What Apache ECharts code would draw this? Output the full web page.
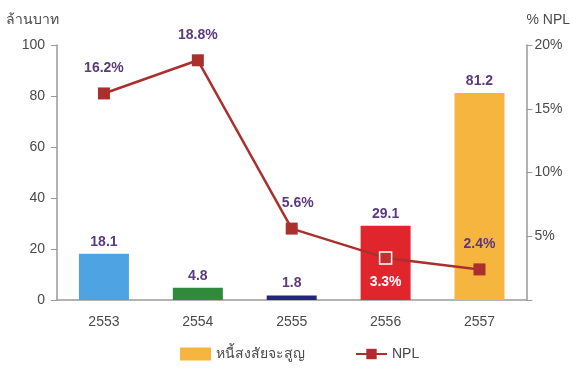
<!DOCTYPE html>
<html>
<head>
<meta charset="utf-8">
<script src="https://cdn.jsdelivr.net/npm/echarts@6/dist/echarts.min.js"></script>
<style>
  html, body { margin: 0; padding: 0; background: #ffffff; }
  #chart { width: 573px; height: 368px; }
</style>
</head>
<body>
<div id="chart"></div>
<script>
// Years (Buddhist era)
const years = ['2553', '2554', '2555', '2556', '2557'];
// Doubtful-debt amount, million baht
const doubtfulDebt = [18.1, 4.8, 1.8, 29.1, 81.2];
// NPL ratio, percent
const nplRatio = [16.2, 18.8, 5.6, 3.3, 2.4];
// Bar colour per year
const barColors = ['#4ea3e3', '#2f8a3c', '#24257e', '#e0262c', '#f5b53f'];

const labelColor = '#5b3a7e';
const axisGray = '#9a9a9a';
const textGray = '#4a4a4a';
const lineRed = '#ab302d';
const baseFont = 'Liberation Sans, Roboto, sans-serif';

const chart = echarts.init(document.getElementById('chart'));

chart.setOption({
  animation: false,
  textStyle: { fontFamily: baseFont },
  grid: { left: 57, right: 44, top: 45, bottom: 68 },
  legend: {
    bottom: 2,
    left: 175,
    itemGap: 50,
    itemWidth: 31,
    itemHeight: 13,
    textStyle: { color: textGray, fontSize: 14, fontFamily: baseFont },
    data: [
      { name: 'หนี้สงสัยจะสูญ', icon: 'rect' },
      { name: 'NPL' }
    ]
  },
  xAxis: {
    type: 'category',
    data: years,
    axisLine: { lineStyle: { color: axisGray, width: 1.5 } },
    axisTick: { show: false },
    axisLabel: { color: textGray, fontSize: 14, margin: 15 }
  },
  yAxis: [
    {
      type: 'value',
      min: 0, max: 100, interval: 20,
      name: 'ล้านบาท',
      nameLocation: 'end',
      nameGap: 18,
      nameTextStyle: { color: textGray, fontSize: 14, align: 'right', padding: [0, -2, 0, 0] },
      axisLine: { show: true, lineStyle: { color: axisGray, width: 1.5 } },
      axisTick: { show: true, length: 6, lineStyle: { color: axisGray } },
      axisLabel: { color: textGray, fontSize: 14, margin: 12 },
      splitLine: { show: false }
    },
    {
      type: 'value',
      min: 0, max: 20, interval: 5,
      name: '% NPL',
      nameLocation: 'end',
      nameGap: 18,
      nameTextStyle: { color: textGray, fontSize: 14, align: 'left', padding: [0, 0, 0, 0] },
      axisLine: { show: true, lineStyle: { color: axisGray, width: 1.5 } },
      axisTick: { show: true, length: 6, lineStyle: { color: axisGray } },
      axisLabel: {
        color: textGray, fontSize: 14, margin: 8,
        formatter: v => (v === 0 ? '' : v + '%')
      },
      splitLine: { show: false }
    }
  ],
  series: [
    {
      name: 'หนี้สงสัยจะสูญ',
      type: 'bar',
      yAxisIndex: 0,
      barWidth: 50,
      itemStyle: { color: barColors[4] },
      data: doubtfulDebt.map((v, i) => ({ value: v, itemStyle: { color: barColors[i] } })),
      label: {
        show: true,
        position: 'top',
        distance: 5,
        color: labelColor,
        fontWeight: 'bold',
        fontSize: 14
      }
    },
    {
      name: 'NPL',
      type: 'line',
      yAxisIndex: 1,
      symbol: 'rect',
      symbolSize: 12,
      lineStyle: { color: lineRed, width: 2.5 },
      itemStyle: { color: lineRed },
      data: nplRatio.map((v, i) => {
        const item = { value: v };
        if (i === 2) {
          item.label = { offset: [6, 0] };
        }
        if (i === 3) {
          item.itemStyle = { color: '#c4302f', borderColor: '#ffffff', borderWidth: 1.5 };
          item.label = { position: 'bottom', distance: 10, color: '#ffffff' };
        }
        return item;
      }),
      label: {
        show: true,
        position: 'top',
        distance: 12,
        color: labelColor,
        fontWeight: 'bold',
        fontSize: 14,
        formatter: p => p.value + '%'
      },
      z: 5
    }
  ]
});
</script>
</body>
</html>
